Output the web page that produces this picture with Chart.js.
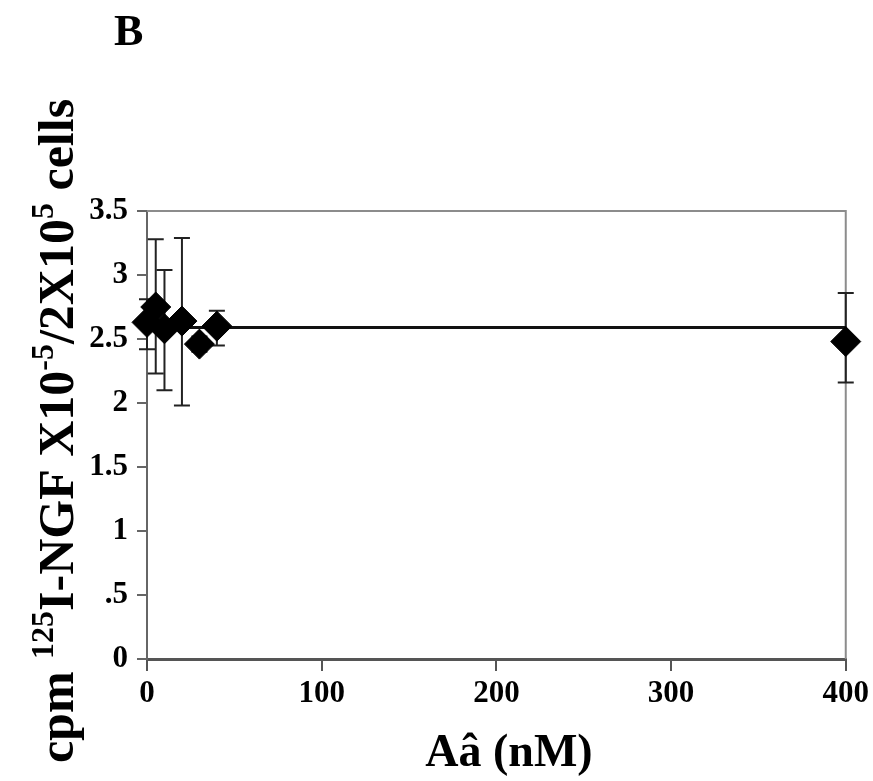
<!DOCTYPE html>
<html>
  <head>
    <title>NGF binding vs Abeta</title>
    <meta name="viewport" content="width=device-width, initial-scale=1.0">
    <style>
      body {
        margin: 0;
        background: #fff;
      }

      #chart {
        display: block;
      }
    </style>
  </head>
  <body>
    <canvas id="chart" width="873" height="781"></canvas>
    <script src="https://cdn.jsdelivr.net/npm/chart.js@4.4.1/dist/chart.umd.min.js"></script>
    <script>
      // values
      const concentrations = [0, 5, 10, 20, 30, 40, 400];
      const meanCpm = [2.63, 2.75, 2.58, 2.64, 2.46, 2.60, 2.48];
      const errUp = [0.18, 0.53, 0.46, 0.65, 0.06, 0.12, 0.38];
      const errDown = [0.21, 0.52, 0.48, 0.66, 0.06, 0.15, 0.32];
      const fitX = [0, 400];
      const fitY = [2.59, 2.59];

      const xTicks = [0, 100, 200, 300, 400];
      const yTickValues = [0, 0.5, 1, 1.5, 2, 2.5, 3, 3.5];
      const yTickLabels = ['0', '.5', '1', '1.5', '2', '2.5', '3', '3.5'];

      const panelLabel = 'B';
      const xTitle = 'Aâ (nM)';
      // [text, isSuperscript]
      const yTitleParts = [
        ['cpm ', false],
        ['125', true],
        ['I-NGF X10', false],
        ['-5', true],
        ['/2X10', false],
        ['5', true],
        [' cells', false]
      ];

      const serif = "'Liberation Serif', 'Times New Roman', serif";

      const decorations = {
        id: 'decorations',
        beforeDatasetsDraw(chart) {
          const { ctx, chartArea: a, scales } = chart;
          ctx.save();
          // top and right frame
          ctx.strokeStyle = '#8c8c8c';
          ctx.lineWidth = 2;
          ctx.beginPath();
          ctx.moveTo(a.left, a.top);
          ctx.lineTo(a.right, a.top);
          ctx.lineTo(a.right, a.bottom);
          ctx.stroke();

          // error bars
          ctx.strokeStyle = '#222';
          ctx.lineWidth = 2;
          concentrations.forEach((c, i) => {
            const px = scales.x.getPixelForValue(c);
            const top = scales.y.getPixelForValue(meanCpm[i] + errUp[i]);
            const bot = scales.y.getPixelForValue(meanCpm[i] - errDown[i]);
            ctx.beginPath();
            ctx.moveTo(px, top);
            ctx.lineTo(px, bot);
            ctx.moveTo(px - 8, top);
            ctx.lineTo(px + 8, top);
            ctx.moveTo(px - 8, bot);
            ctx.lineTo(px + 8, bot);
            ctx.stroke();
          });
          ctx.restore();
        },
        afterDraw(chart) {
          const { ctx } = chart;
          ctx.save();
          ctx.fillStyle = '#000';

          ctx.font = 'bold 44px ' + serif;
          ctx.textBaseline = 'alphabetic';
          ctx.textAlign = 'left';
          ctx.fillText(panelLabel, 114, 45);

          ctx.font = 'bold 46px ' + serif;
          ctx.textAlign = 'center';
          ctx.fillText(xTitle, 509, 766);

          // rotated y title with superscripts
          const baseFont = 'bold 50px ' + serif;
          const supFont = 'bold 32px ' + serif;
          ctx.textAlign = 'left';
          let total = 0;
          yTitleParts.forEach(([t, sup]) => {
            ctx.font = sup ? supFont : baseFont;
            total += ctx.measureText(t).width;
          });
          ctx.translate(73, 431);
          ctx.rotate(-Math.PI / 2);
          let u = -total / 2;
          yTitleParts.forEach(([t, sup]) => {
            ctx.font = sup ? supFont : baseFont;
            ctx.fillText(t, u, sup ? -20 : 0);
            u += ctx.measureText(t).width;
          });
          ctx.restore();
        }
      };

      const ctx = document.getElementById('chart').getContext('2d');
      const chart = new Chart(ctx, {
        type: 'scatter',
        data: {
          datasets: [{
            label: 'mean',
            data: concentrations.map((c, i) => ({ x: c, y: meanCpm[i] })),
            pointStyle: 'rectRot',
            pointRadius: 15,
            pointHoverRadius: 15,
            backgroundColor: '#000',
            borderColor: '#000',
            borderWidth: 1,
            clip: false,
            order: 0
          },
          {
            label: 'fit',
            type: 'line',
            data: fitX.map((x, i) => ({ x: x, y: fitY[i] })),
            borderColor: '#111',
            borderWidth: 3,
            pointRadius: 0,
            clip: false,
            order: 1
          }]
        },
        options: {
          responsive: false,
          animation: false,
          layout: { padding: { top: 211, right: 24, left: 0, bottom: 0 } },
          plugins: {
            legend: { display: false },
            tooltip: { enabled: false }
          },
          scales: {
            x: {
              type: 'linear',
              min: 0,
              max: 400,
              afterBuildTicks: (s) => { s.ticks = xTicks.map(v => ({ value: v })); },
              afterFit: (s) => { s.height = 122; },
              grid: { drawOnChartArea: false, drawTicks: true, tickLength: 12, color: '#555', lineWidth: 2 },
              border: { color: '#555', width: 3 },
              ticks: {
                color: '#000',
                maxRotation: 0,
                padding: 4,
                font: { family: serif, size: 31, weight: 'bold' }
              }
            },
            y: {
              min: 0,
              max: 3.5,
              afterBuildTicks: (s) => { s.ticks = yTickValues.map(v => ({ value: v })); },
              afterFit: (s) => { s.width = 147; },
              grid: { drawOnChartArea: false, drawTicks: true, tickLength: 10, color: '#666', lineWidth: 2 },
              border: { color: '#666', width: 2 },
              ticks: {
                color: '#000',
                padding: 9,
                callback: (v, i) => yTickLabels[i],
                font: { family: serif, size: 31, weight: 'bold' }
              }
            }
          }
        },
        plugins: [decorations]
      });
    </script>
  </body>
</html>
